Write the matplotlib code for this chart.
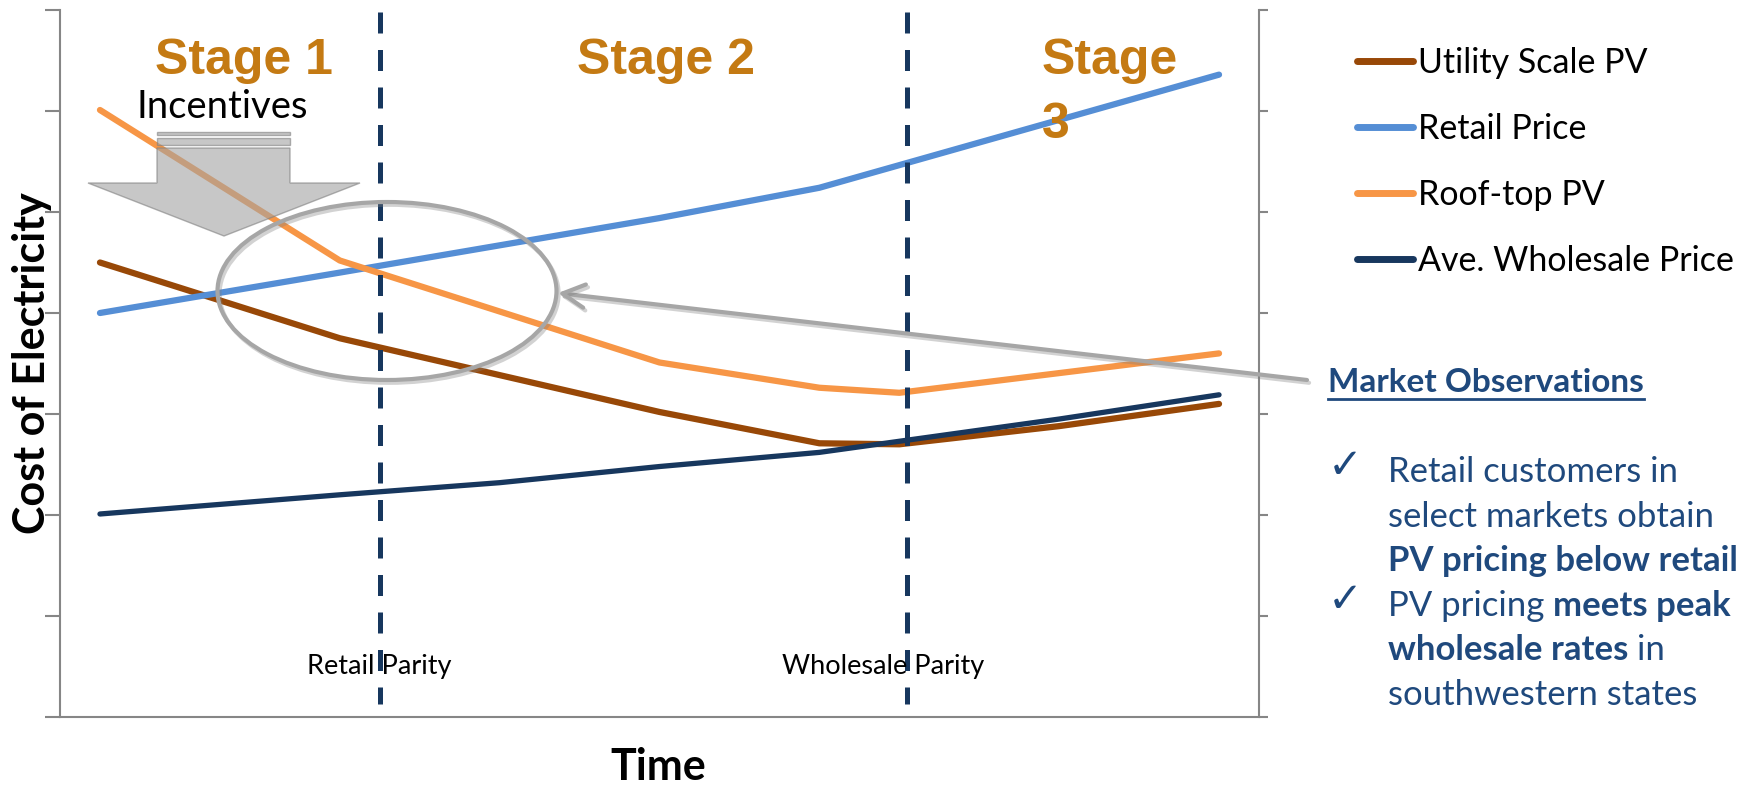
import matplotlib
matplotlib.use("Agg")
import matplotlib.pyplot as plt
import matplotlib.patheffects as pe
from matplotlib.patches import Polygon, Ellipse, Rectangle
from matplotlib.lines import Line2D

# Cost of electricity on a 15-step time axis (step index -> cost units)
utility_steps = [0, 3, 7, 9, 10, 12, 14]
utility_cost = [4.50, 3.75, 3.02, 2.71, 2.70, 2.88, 3.10]

retail_steps = [0, 3, 7, 9, 14]
retail_cost = [4.00, 4.40, 4.94, 5.24, 6.36]

rooftop_steps = [0, 3, 7, 9, 10, 14]
rooftop_cost = [6.01, 4.52, 3.51, 3.26, 3.21, 3.60]

wholesale_steps = [0, 3, 5, 7, 9, 10, 12, 14]
wholesale_cost = [2.01, 2.20, 2.32, 2.48, 2.62, 2.73, 2.95, 3.19]

series_names = ["Utility Scale PV", "Retail Price", "Roof-top PV", "Ave. Wholesale Price"]
parity_steps = [3.5, 10.1]
parity_names = ["Retail Parity", "Wholesale Parity"]
n_steps = 15

colors = {
    "utility": "#984807",
    "retail": "#558ED5",
    "rooftop": "#F79646",
    "wholesale": "#17375E",
}
STAGE = "#C47A13"
NAVY = "#1F497D"
SPINE = "#868686"
GREY = "#A6A6A6"
BODY_FONT = "Lato"

W, H = 1753, 786
fig = plt.figure(figsize=(W / 100, H / 100), dpi=100)

# Main chart area
ax = fig.add_axes([60 / W, 1 - 717 / H, (1259 - 60) / W, (717 - 10) / H])
ax.set_xlim(-0.5, n_steps - 0.5)
ax.set_ylim(0, 7)
ax.set_yticks(range(8))
ax.set_xticks([])
for side in ["top", "right"]:
    ax.spines[side].set_visible(False)
for side in ["left", "bottom"]:
    ax.spines[side].set_color(SPINE)
    ax.spines[side].set_linewidth(1.5)
ax.tick_params(axis="y", direction="out", length=10.8, width=1.5, color=SPINE, labelleft=False)

# Secondary axis on the right, ticks only
ax2 = ax.twinx()
ax2.set_ylim(0, 7)
ax2.set_yticks(range(8))
for side in ["top", "left", "bottom"]:
    ax2.spines[side].set_visible(False)
ax2.spines["right"].set_color(SPINE)
ax2.spines["right"].set_linewidth(1.5)
ax2.tick_params(axis="y", direction="out", length=6.5, width=1.5, color=SPINE, labelright=False)

line_kw = dict(solid_capstyle="round", solid_joinstyle="round")
ax.plot(utility_steps, utility_cost, color=colors["utility"], lw=4.5, **line_kw)
ax.plot(retail_steps, retail_cost, color=colors["retail"], lw=4.5, **line_kw)
ax.plot(rooftop_steps, rooftop_cost, color=colors["rooftop"], lw=4.5, **line_kw)
ax.plot(wholesale_steps, wholesale_cost, color=colors["wholesale"], lw=3.8, **line_kw)

# Parity markers, dashed from the top down
for step in parity_steps:
    ax.plot([step, step], [0.997, 0.018], transform=ax.get_xaxis_transform(),
            color=colors["wholesale"], lw=3.6, dashes=(4.2, 3.3), solid_capstyle="butt")

# Overlay in pixel units for the annotations
ov = fig.add_axes([0, 0, 1, 1], zorder=5)
ov.set_xlim(0, W)
ov.set_ylim(H, 0)
ov.axis("off")
renderer = fig.canvas.get_renderer()

# Stage headings
stage_kw = dict(family="Liberation Sans", fontweight="bold", fontsize=36, color=STAGE, va="baseline")
ov.text(155, 74, "Stage 1", **stage_kw)
ov.text(577, 74, "Stage 2", **stage_kw)
ov.text(1042, 74, "Stage", **stage_kw)
ov.text(1042, 138, "3", **stage_kw)

# Incentives block arrow
ov.text(137, 118, "Incentives", family=BODY_FONT, fontsize=27.5, color="black", va="baseline")
arrow_kw = dict(facecolor="#A3A3A3", edgecolor="#7F7F7F", lw=1.0, alpha=0.6)
ov.add_patch(Polygon([(157, 148), (290, 148), (290, 183), (360, 183), (224, 236),
                      (88, 183), (157, 183)], closed=True, **arrow_kw))
ov.add_patch(Rectangle((157, 132), 133, 3, **arrow_kw))
ov.add_patch(Rectangle((157, 138), 133, 7, **arrow_kw))

# Parity labels
for step, name, off in zip(parity_steps, parity_names, [0.0, -0.3]):
    xp = ax.transData.transform((step + off, 0))[0]
    ov.text(xp, 674, name, family=BODY_FONT, fontsize=19.5, color="black",
            ha="center", va="baseline")

# Callout ellipse and connector
shadow = [pe.SimpleLineShadow(offset=(1.5, -2), shadow_color="#7F7F7F", alpha=0.35), pe.Normal()]
ov.add_patch(Ellipse((387, 291), 339, 178, fill=False, edgecolor=GREY, lw=3.0,
                     path_effects=shadow))
ov.annotate("", xy=(558, 293), xytext=(1307, 380),
            arrowprops=dict(arrowstyle="->, head_length=0.8, head_width=0.42",
                            mutation_scale=20, color=GREY, lw=3.0,
                            shrinkA=0, shrinkB=0, path_effects=shadow))

# Axis titles
ov.text(32, 363, "Cost of Electricity", family=BODY_FONT, fontweight="bold", fontsize=31,
        rotation=90, ha="center", va="center", color="black")
ov.text(658, 780, "Time", family=BODY_FONT, fontweight="bold", fontsize=31,
        ha="center", va="baseline", color="black")

# Legend
handles = [Line2D([], [], color=colors[k], lw=5, solid_capstyle="round")
           for k in ["utility", "retail", "rooftop", "wholesale"]]
fig.legend(handles, series_names, loc="upper left", bbox_to_anchor=(1357 / W, 1 - 47 / H),
           frameon=False, prop={"family": BODY_FONT, "size": 24.5}, handlelength=1.64,
           handletextpad=0.15, labelspacing=1.0, borderpad=0, borderaxespad=0)

# Market observations panel
head = ov.text(1328, 392, "Market Observations", family=BODY_FONT, fontweight="bold",
               fontsize=24, color=NAVY, va="baseline")
hb = head.get_window_extent(renderer)
ov.plot([hb.x0, hb.x1], [399, 399], color=NAVY, lw=2)

body_kw = dict(family=BODY_FONT, fontsize=25, color=NAVY, va="baseline")


def run_width(s, weight):
    t = ov.text(0, 0, s, fontweight=weight, **body_kw)
    w = t.get_window_extent(renderer).width
    t.remove()
    return w


space_w = run_width("a a", "normal") - run_width("aa", "normal")


def text_runs(x, y, runs):
    for s, weight in runs:
        t = ov.text(x, y, s, fontweight=weight, **body_kw)
        x = t.get_window_extent(renderer).x1 + space_w


body_lines = [
    [("Retail customers in", "normal")],
    [("select markets obtain", "normal")],
    [("PV pricing below retail", "bold")],
    [("PV pricing", "normal"), ("meets peak", "bold")],
    [("wholesale rates", "bold"), ("in", "normal")],
    [("southwestern states", "normal")],
]
for i, runs in enumerate(body_lines):
    text_runs(1388, 482 + 44.6 * i, runs)

for yb in [478, 612]:
    ov.text(1328, yb, "\u2713", family="DejaVu Sans", fontweight="bold", fontsize=30,
            color=NAVY, va="baseline")

fig.savefig("out.png", dpi=100)
